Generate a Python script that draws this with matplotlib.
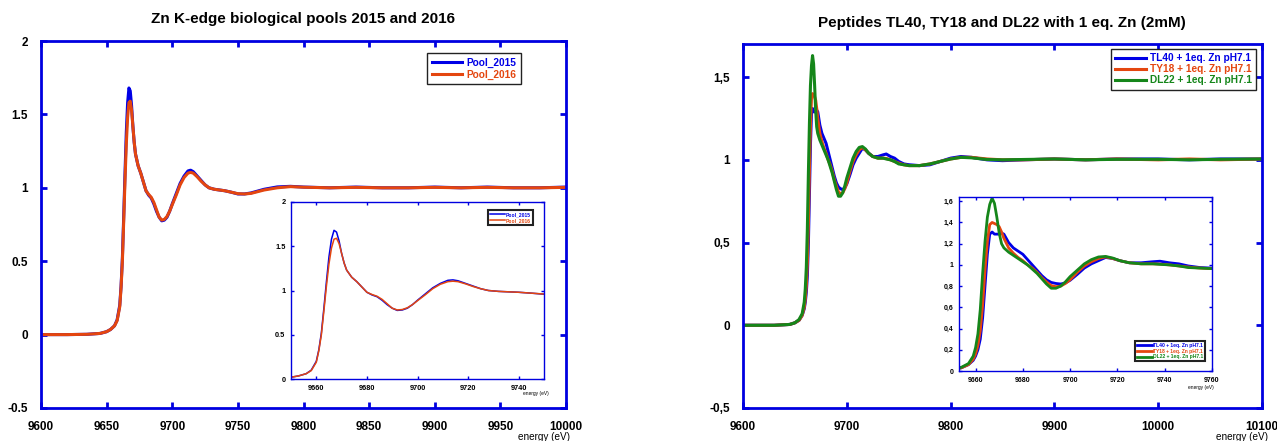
import matplotlib
matplotlib.use("Agg")
import matplotlib.pyplot as plt
from matplotlib.ticker import FuncFormatter, FixedLocator

plt.rcParams['font.family'] = ['Liberation Sans', 'DejaVu Sans']

# ---------------- data ----------------
energy_pool = [9600, 9620, 9635, 9645, 9650, 9653, 9656, 9658, 9660, 9661, 9662, 9663,
               9664, 9665, 9666, 9667, 9668, 9669, 9670, 9671, 9672, 9674, 9676, 9678,
               9680, 9682, 9684, 9686, 9688, 9690, 9692, 9694, 9696, 9698, 9700, 9703,
               9706, 9709, 9712, 9714, 9716, 9719, 9722, 9725, 9728, 9732, 9736, 9740,
               9745, 9750, 9755, 9760, 9770, 9780, 9790, 9800, 9820, 9840, 9860, 9880,
               9900, 9920, 9940, 9960, 9980, 10000]
pool_2015 = [0.000, 0.000, 0.002, 0.008, 0.020, 0.035, 0.060, 0.100, 0.200, 0.330, 0.520, 0.800,
             1.100, 1.380, 1.580, 1.680, 1.660, 1.560, 1.420, 1.310, 1.230, 1.150, 1.100, 1.040,
             0.980, 0.950, 0.930, 0.890, 0.840, 0.800, 0.775, 0.780, 0.800, 0.840, 0.890, 0.960,
             1.030, 1.080, 1.115, 1.120, 1.110, 1.080, 1.050, 1.020, 1.000, 0.990, 0.985, 0.980,
             0.970, 0.958, 0.958, 0.965, 0.990, 1.006, 1.010, 1.005, 1.000, 1.005, 1.000, 1.000,
             1.005, 1.000, 1.005, 1.000, 1.000, 1.005]
pool_2016 = [0.000, 0.000, 0.002, 0.008, 0.020, 0.035, 0.060, 0.095, 0.190, 0.320, 0.500, 0.770,
             1.050, 1.300, 1.480, 1.580, 1.590, 1.530, 1.420, 1.310, 1.230, 1.150, 1.100, 1.040,
             0.980, 0.955, 0.935, 0.900, 0.850, 0.800, 0.780, 0.785, 0.805, 0.840, 0.885, 0.950,
             1.020, 1.070, 1.100, 1.105, 1.100, 1.075, 1.045, 1.020, 1.000, 0.990, 0.985, 0.980,
             0.970, 0.960, 0.958, 0.962, 0.985, 1.000, 1.008, 1.004, 1.000, 1.003, 1.000, 1.000,
             1.003, 1.000, 1.003, 1.000, 1.000, 1.003]

energy_pep = [9600, 9630, 9645, 9650, 9654, 9657, 9659, 9660, 9661, 9662, 9663, 9664,
              9665, 9666, 9667, 9668, 9669, 9670, 9671, 9672, 9674, 9676, 9678, 9680,
              9682, 9684, 9686, 9688, 9690, 9692, 9694, 9696, 9698, 9700, 9703, 9706,
              9709, 9712, 9715, 9718, 9721, 9725, 9730, 9735, 9738, 9742, 9746, 9750,
              9755, 9760, 9770, 9780, 9790, 9800, 9810, 9820, 9835, 9850, 9870, 9900,
              9930, 9960, 10000, 10030, 10060, 10100]
tl40 = [0.000, 0.000, 0.005, 0.015, 0.030, 0.060, 0.100, 0.140, 0.200, 0.300, 0.500, 0.800,
        1.100, 1.290, 1.310, 1.290, 1.290, 1.290, 1.300, 1.290, 1.210, 1.160, 1.130, 1.100,
        1.050, 1.000, 0.950, 0.900, 0.860, 0.835, 0.825, 0.820, 0.830, 0.855, 0.910, 0.970,
        1.010, 1.040, 1.070, 1.060, 1.040, 1.020, 1.020, 1.030, 1.035, 1.020, 1.010, 0.990,
        0.975, 0.970, 0.965, 0.970, 0.990, 1.010, 1.020, 1.015, 1.000, 0.995, 1.000, 1.005,
        1.000, 1.005, 1.005, 1.000, 1.005, 1.005]
ty18 = [0.000, 0.000, 0.005, 0.015, 0.030, 0.060, 0.110, 0.160, 0.240, 0.380, 0.620, 0.950,
        1.220, 1.380, 1.400, 1.390, 1.380, 1.360, 1.310, 1.250, 1.160, 1.110, 1.070, 1.040,
        1.000, 0.970, 0.930, 0.880, 0.840, 0.805, 0.795, 0.800, 0.825, 0.860, 0.930, 0.990,
        1.030, 1.060, 1.075, 1.060, 1.040, 1.020, 1.010, 1.010, 1.008, 1.000, 0.990, 0.980,
        0.970, 0.965, 0.965, 0.975, 0.990, 1.005, 1.015, 1.015, 1.005, 1.000, 1.000, 1.005,
        1.000, 1.005, 1.000, 1.005, 1.000, 1.005]
dl22 = [0.000, 0.000, 0.005, 0.015, 0.035, 0.070, 0.140, 0.220, 0.350, 0.580, 0.920, 1.220,
        1.450, 1.570, 1.630, 1.580, 1.450, 1.300, 1.200, 1.160, 1.120, 1.090, 1.060, 1.030,
        1.000, 0.960, 0.920, 0.870, 0.820, 0.780, 0.780, 0.800, 0.840, 0.890, 0.950, 1.010,
        1.050, 1.075, 1.080, 1.065, 1.040, 1.020, 1.010, 1.010, 1.005, 1.000, 0.990, 0.975,
        0.970, 0.965, 0.965, 0.975, 0.990, 1.005, 1.015, 1.012, 1.002, 1.000, 1.002, 1.005,
        1.000, 1.003, 1.003, 1.000, 1.003, 1.005]

pool_labels = ['Pool_2015', 'Pool_2016']
pep_labels = ['TL40 + 1eq. Zn pH7.1', 'TY18 + 1eq. Zn pH7.1', 'DL22 + 1eq. Zn pH7.1']

BLUE = '#0000e6'
RED = '#e4460f'
GREEN = '#15861a'
SPINE = '#0000e0'

W, H = 1277, 441
fig = plt.figure(figsize=(W / 100, H / 100), dpi=100)


def rect(l, t, r, b):
    return [l / W, 1 - b / H, (r - l) / W, (b - t) / H]


def style(ax, lw, tl, tw, fs, pad):
    for s in ax.spines.values():
        s.set_color(SPINE)
        s.set_linewidth(lw)
    ax.tick_params(which='both', direction='in', top=True, right=True,
                   length=tl, width=tw, color=SPINE, labelsize=fs, pad=pad)
    for lab in ax.get_xticklabels() + ax.get_yticklabels():
        lab.set_fontweight('bold')


dot = FuncFormatter(lambda v, p: ('%g' % v))
comma = FuncFormatter(lambda v, p: ('%g' % v).replace('.', ','))

# ---------------- left main ----------------
ax1 = fig.add_axes(rect(41, 41, 566, 408))
ax1.plot(energy_pool, pool_2015, color=BLUE, lw=2.2, label=pool_labels[0])
ax1.plot(energy_pool, pool_2016, color=RED, lw=2.2, label=pool_labels[1])
ax1.set_xlim(9600, 10000)
ax1.set_ylim(-0.5, 2)
ax1.xaxis.set_major_locator(FixedLocator(list(range(9600, 10001, 50))))
ax1.yaxis.set_major_locator(FixedLocator([-0.5, 0, 0.5, 1, 1.5, 2]))
ax1.yaxis.set_major_formatter(dot)
style(ax1, 2.0, 4.5, 2.0, 8.5, 9.5)
leg = ax1.legend(loc='upper right', bbox_to_anchor=(521 / W, 1 - 53 / H),
                 bbox_transform=fig.transFigure, borderaxespad=0, fancybox=False,
                 edgecolor='#222222', framealpha=1, labelcolor='linecolor',
                 prop={'weight': 'bold', 'size': 7.3}, handlelength=3.0,
                 handletextpad=0.4, borderpad=0.45, labelspacing=0.2)
leg.get_frame().set_linewidth(1.0)
fig.text(570 / W, 1 - 437 / H, 'energy (eV)', ha='right', va='center', fontsize=7.2)
fig.text(303 / W, 1 - 19 / H, 'Zn K-edge biological pools 2015 and 2016',
         ha='center', va='center', fontsize=11, fontweight='bold')

# ---------------- left inset ----------------
ax1i = fig.add_axes(rect(291, 202, 544, 379))
ax1i.plot(energy_pool, pool_2015, color=BLUE, lw=1.1, label=pool_labels[0])
ax1i.plot(energy_pool, pool_2016, color=RED, lw=1.1, label=pool_labels[1])
ax1i.set_xlim(9650, 9750)
ax1i.set_ylim(0, 2)
ax1i.xaxis.set_major_locator(FixedLocator([9660, 9680, 9700, 9720, 9740]))
ax1i.yaxis.set_major_locator(FixedLocator([0, 0.5, 1, 1.5, 2]))
ax1i.yaxis.set_major_formatter(dot)
style(ax1i, 1.0, 2.5, 1.0, 5.3, 4.0)
legi = ax1i.legend(loc='upper right', bbox_to_anchor=(533 / W, 1 - 210 / H),
                   bbox_transform=fig.transFigure, borderaxespad=0, fancybox=False,
                   edgecolor='#222222', framealpha=1, labelcolor='linecolor',
                   prop={'weight': 'bold', 'size': 3.6}, handlelength=3.0,
                   handletextpad=0.3, borderpad=0.4, labelspacing=0.2)
legi.get_frame().set_linewidth(1.5)
fig.text(549 / W, 1 - 394 / H, 'energy (eV)', ha='right', va='center', fontsize=3.5)

# ---------------- right main ----------------
ax2 = fig.add_axes(rect(743, 44, 1262, 408))
ax2.plot(energy_pep, tl40, color=BLUE, lw=2.2, label=pep_labels[0])
ax2.plot(energy_pep, ty18, color=RED, lw=2.2, label=pep_labels[1])
ax2.plot(energy_pep, dl22, color=GREEN, lw=2.2, label=pep_labels[2])
ax2.set_xlim(9600, 10100)
ax2.set_ylim(-0.5, 1.7)
ax2.xaxis.set_major_locator(FixedLocator(list(range(9600, 10101, 100))))
ax2.yaxis.set_major_locator(FixedLocator([-0.5, 0, 0.5, 1, 1.5]))
ax2.yaxis.set_major_formatter(comma)
style(ax2, 2.0, 4.5, 2.0, 8.5, 9.5)
leg2 = ax2.legend(loc='upper right', bbox_to_anchor=(1256 / W, 1 - 49 / H),
                  bbox_transform=fig.transFigure, borderaxespad=0, fancybox=False,
                  edgecolor='#222222', framealpha=1, labelcolor='linecolor',
                  prop={'weight': 'bold', 'size': 7.3}, handlelength=3.0,
                  handletextpad=0.4, borderpad=0.4, labelspacing=0.12)
leg2.get_frame().set_linewidth(1.0)
fig.text(1268 / W, 1 - 437 / H, 'energy (eV)', ha='right', va='center', fontsize=7.2)
fig.text(1002 / W, 1 - 23 / H, 'Peptides TL40, TY18 and DL22 with 1 eq. Zn (2mM)',
         ha='center', va='center', fontsize=11, fontweight='bold')

# ---------------- right inset ----------------
ax2i = fig.add_axes(rect(959, 197, 1212, 371))
ax2i.plot(energy_pep, tl40, color=BLUE, lw=2.0, label=pep_labels[0])
ax2i.plot(energy_pep, ty18, color=RED, lw=2.0, label=pep_labels[1])
ax2i.plot(energy_pep, dl22, color=GREEN, lw=2.0, label=pep_labels[2])
ax2i.set_xlim(9653, 9760)
ax2i.set_ylim(0, 1.64)
ax2i.xaxis.set_major_locator(FixedLocator([9660, 9680, 9700, 9720, 9740, 9760]))
ax2i.yaxis.set_major_locator(FixedLocator([0, 0.2, 0.4, 0.6, 0.8, 1, 1.2, 1.4, 1.6]))
ax2i.yaxis.set_major_formatter(comma)
style(ax2i, 1.0, 2.5, 1.0, 5.0, 4.0)
leg2i = ax2i.legend(loc='lower right', bbox_to_anchor=(1205 / W, 1 - 361 / H),
                    bbox_transform=fig.transFigure, borderaxespad=0, fancybox=False,
                    edgecolor='#222222', framealpha=1, labelcolor='linecolor',
                    prop={'weight': 'bold', 'size': 3.6}, handlelength=3.0,
                    handletextpad=0.3, borderpad=0.35, labelspacing=0.15)
leg2i.get_frame().set_linewidth(1.5)
fig.text(1214 / W, 1 - 388 / H, 'energy (eV)', ha='right', va='center', fontsize=3.5)

fig.savefig('out.png', dpi=100)
